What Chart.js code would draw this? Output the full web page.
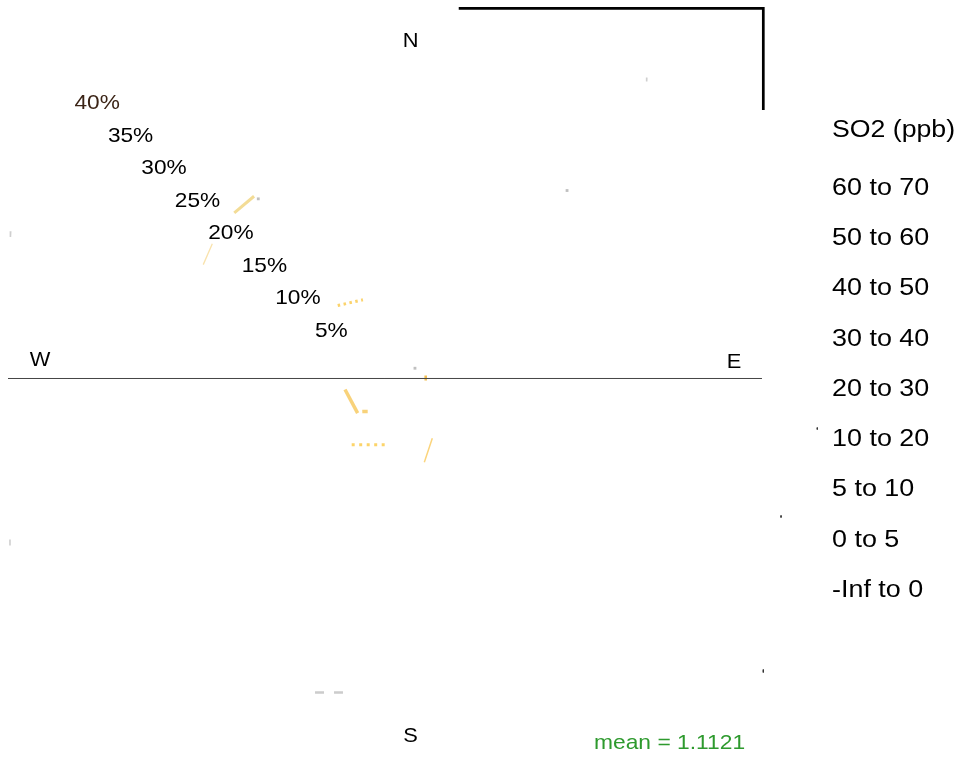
<!DOCTYPE html>
<html><head><meta charset="utf-8">
<script src="https://cdn.jsdelivr.net/npm/chart.js@4/dist/chart.umd.min.js"></script>
<style>html,body{margin:0;padding:0;background:#fff;overflow:hidden}canvas{display:block}</style>
</head><body><canvas id="c" width="958" height="757"></canvas>
<script>
// ---------- data ----------
const pollutantTitle = 'SO2 (ppb)';
const concentrationBins = ['60 to 70','50 to 60','40 to 50','30 to 40','20 to 30','10 to 20','5 to 10','0 to 5','-Inf to 0'];
const radialTicks = [5, 10, 15, 20, 25, 30, 35, 40];
const radialTickLabels = ['5%','10%','15%','20%','25%','30%','35%','40%'];
const compassLabels = ['N', 'E', 'S', 'W'];
const meanLabel = 'mean = 1.1121';
// visible rose fragments: [bearing (deg), frequency (%)] start -> end
const fragStart = [[317.6,24.0],[302.0,23.0],[326.8,9.34],[254.8,4.49],[215.1,4.32],[207.0,7.97],[141.9,8.12],[85.7,4.31],
                   [192.65,34.45],[40.97,42.65],[291.46,43.10],[246.79,43.73],[96.48,46.51],[109.1,44.80],[127.61,51.04]];
const fragEnd   = [[324.2,24.05],[307.9,23.49],[344.0,8.76],[218.8,4.76],[208.4,4.01],[179.0,7.10],[155.1,9.87],[92.8,4.31],
                   [187.71,33.92],[41.32,42.33],[290.66,42.90],[246.03,43.98],[96.74,46.53],[109.37,44.87],[127.89,51.23]];
const fragKind  = ['gold','goldFaint','goldComma','goldBold','goldBold','goldDot','goldThin','goldDeep',
                   'greyDash','greyTick','greyTick','greyTick','blackTick','blackTick','blackTick'];
const gridDots  = [[324.7,23.56],[70.8,3.34],[44.0,27.97]];
const axisEW    = [[270,40.4],[90,40.29]];

// ---------- styles / layout ----------
const STYLES = {
  gold:      {c:'#f3dc96', w:3},
  goldFaint: {c:'#f9e2ac', w:1.3},
  goldComma: {c:'#fbd36c', w:3, dash:[2.5,3.5]},
  goldDot:   {c:'#fcd46a', w:3, dash:[3,4.5]},
  goldBold:  {c:'#f8d27a', w:3.5},
  goldThin:  {c:'#fbd47c', w:1.5},
  goldDeep:  {c:'#f2bf52', w:2.5},
  greyDash:  {c:'#cccccc', w:2.5, dash:[9,10]},
  greyTick:  {c:'#cfcfcf', w:1.6},
  blackTick: {c:'#333333', w:1}
};
const FONT = '"Liberation Sans", Arial, Helvetica, sans-serif';
const toXY = ([b, r]) => ({x: r*Math.sin(b*Math.PI/180), y: r*Math.cos(b*Math.PI/180)});

const datasets = [];
datasets.push({data: axisEW.map(toXY), showLine:true, borderColor:'#444444', borderWidth:1, pointRadius:0, clip:false});
fragStart.forEach((s, i) => {
  const st = STYLES[fragKind[i]];
  datasets.push({data:[toXY(s), toXY(fragEnd[i])], showLine:true, borderColor:st.c, borderWidth:st.w,
    borderDash:st.dash||[], borderCapStyle:'butt', pointRadius:0, clip:false});
});
datasets.push({data: gridDots.map(toXY), showLine:false, pointStyle:'rect', pointRadius:2,
  backgroundColor:'#c0c0c0', borderWidth:0, clip:false});

function textX(ctx, t, x, y, sx) {
  ctx.save(); ctx.translate(x, y); ctx.scale(sx, 1); ctx.fillText(t, 0, 0); ctx.restore();
}

const textPlugin = {
  id:'texts',
  afterDraw(chart){
    const {ctx, chartArea:a, scales:{x, y}} = chart;
    ctx.save();
    // frame fragment (top-right)
    ctx.strokeStyle = '#000'; ctx.lineWidth = 2.7;
    ctx.beginPath();
    ctx.moveTo(a.left + 0.597*(a.right-a.left), a.top + 0.3);
    ctx.lineTo(a.right + 0.3, a.top + 0.3);
    ctx.lineTo(a.right + 0.3, a.top + 0.138*(a.bottom-a.top));
    ctx.stroke();
    ctx.textAlign = 'center'; ctx.textBaseline = 'middle';
    // compass
    const cpos = {N:[2.68,36.07], E:[37.3,1.75], S:[2.68,-38.3], W:[-36.98,1.93]};
    ctx.font = '21px ' + FONT; ctx.fillStyle = '#000';
    compassLabels.forEach(l => textX(ctx, l, x.getPixelForValue(cpos[l][0]), y.getPixelForValue(cpos[l][1]), 1.04));
    // radial tick labels
    ctx.font = '21px ' + FONT;
    radialTicks.forEach((r, i) => {
      ctx.fillStyle = i === radialTicks.length-1 ? '#3b2416' : '#000';
      textX(ctx, radialTickLabels[i], x.getPixelForValue(-0.716*r - 2.22), y.getPixelForValue(0.696*r + 1.62), 1.08);
    });
    // legend
    ctx.textAlign = 'left'; ctx.fillStyle = '#000';
    ctx.font = '23px ' + FONT;
    textX(ctx, pollutantTitle, 832, 131, 1.16);
    concentrationBins.forEach((t, i) => textX(ctx, t, 832, 188.3 + 50.3*i, 1.17));
    // mean
    ctx.font = '21px ' + FONT; ctx.fillStyle = '#2e9a2e';
    textX(ctx, meanLabel, 594, 743, 1.086);
    ctx.restore();
  }
};

new Chart(document.getElementById('c'), {
  type:'scatter',
  data:{datasets},
  options:{
    responsive:false, animation:false, devicePixelRatio:1,
    layout:{padding:{left:8, top:8, right:195, bottom:9}},
    scales:{
      x:{type:'linear', min:-40.4, max:40.4, display:false},
      y:{type:'linear', min:-39.547, max:39.654, display:false}
    },
    plugins:{legend:{display:false}, tooltip:{enabled:false}}
  },
  plugins:[textPlugin]
});
</script></body></html>
